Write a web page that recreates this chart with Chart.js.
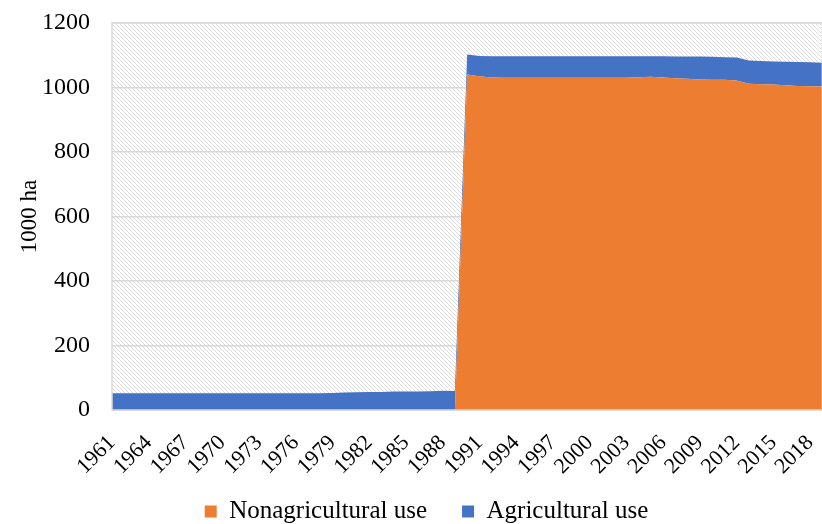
<!DOCTYPE html>
<html>
<head>
<meta charset="utf-8">
<script src="https://cdn.jsdelivr.net/npm/chart.js@4"></script>
<style>
  html, body { margin: 0; padding: 0; background: #fff; overflow: hidden; }
  #wrap { width: 853px; height: 524px; position: relative; }
</style>
</head>
<body>
<div id="wrap"><canvas id="c"></canvas></div>
<script>
// Land area, 1000 ha
const years = [];
for (let y = 1961; y <= 2019; y++) years.push(String(y));

const nonagricultural = [
  0, 0, 0, 0, 0, 0, 0, 0, 0, 0,          // 1961-1970
  0, 0, 0, 0, 0, 0, 0, 0, 0, 0,          // 1971-1980
  0, 0, 0, 0, 0, 0, 0, 0, 0,             // 1981-1989
  1040, 1035, 1031, 1030, 1030, 1030, 1030, 1030, 1030, 1030, // 1990-1999
  1030, 1030, 1030, 1030, 1032, 1033, 1031, 1029, 1027, 1025, // 2000-2009
  1024, 1024, 1022, 1012, 1010, 1009, 1007, 1005, 1004, 1003  // 2010-2019
];

const agricultural = [
  52, 52, 52, 52, 52, 52, 52, 52, 52, 52, // 1961-1970
  52, 52, 52, 52, 52, 52, 52, 52, 53, 54, // 1971-1980
  55, 56, 56, 57, 57, 57, 58, 60, 59,     // 1981-1989
  62, 63, 66, 67, 67, 67, 67, 67, 67, 67, // 1990-1999
  67, 67, 67, 67, 65, 64, 66, 67, 69, 71, // 2000-2009
  71, 70, 71, 72, 72, 72, 73, 74, 74, 74  // 2010-2019
];

const yTicks = [0, 200, 400, 600, 800, 1000, 1200];

// diagonal hatch for the plot background
function makeHatch() {
  const n = 4;
  const t = document.createElement('canvas');
  t.width = n; t.height = n;
  const g = t.getContext('2d');
  g.fillStyle = '#ffffff';
  g.fillRect(0, 0, n, n);
  g.fillStyle = '#dcdcdc';
  for (let i = 0; i < n; i++) g.fillRect(i, i, 1, 1);
  return t;
}

const plotBackground = {
  id: 'plotBackground',
  beforeDraw(chart) {
    const { ctx, chartArea: a } = chart;
    ctx.save();
    ctx.fillStyle = ctx.createPattern(makeHatch(), 'repeat');
    ctx.fillRect(a.left, a.top, a.right - a.left, a.bottom - a.top);
    ctx.restore();
  },
  afterDraw(chart) {
    const { ctx, chartArea: a } = chart;
    ctx.save();
    ctx.strokeStyle = '#d9d9d9';
    ctx.lineWidth = 1.5;
    ctx.strokeRect(a.left, a.top, a.right - a.left, a.bottom - a.top);
    ctx.restore();
  }
};

// wide horizontal gaps between legend items, but a compact legend row
const legendRow = {
  id: 'legendRow',
  beforeLayout(chart) {
    const lg = chart.legend;
    if (lg && !lg._compact) {
      const fit = lg.fit.bind(lg);
      lg.fit = function () { fit(); this.height = 45; };
      lg._compact = true;
    }
  },
  afterLayout(chart) {
    const lg = chart.legend;
    if (lg) {
      lg.top -= 15;
      lg.height = lg.bottom - lg.top;
    }
  }
};

const serif = "'Liberation Serif', 'Times New Roman', serif";

new Chart(document.getElementById('c'), {
  type: 'line',
  data: {
    labels: years,
    datasets: [
      {
        label: 'Nonagricultural use',
        data: nonagricultural,
        backgroundColor: '#ED7D31',
        borderColor: '#ED7D31',
        borderWidth: 0,
        pointRadius: 0,
        fill: 'origin',
        tension: 0
      },
      {
        label: 'Agricultural use',
        data: agricultural,
        backgroundColor: '#4472C4',
        borderColor: '#4472C4',
        borderWidth: 0,
        pointRadius: 0,
        fill: '-1',
        tension: 0
      }
    ]
  },
  options: {
    responsive: true,
    maintainAspectRatio: false,
    animation: false,
    layout: { padding: { left: 0, right: 0, top: 23, bottom: 0 } },
    plugins: {
      legend: {
        position: 'bottom',
        labels: {
          font: { family: serif, size: 25 },
          color: '#000',
          boxWidth: 12,
          boxHeight: 12,
          padding: 35
        }
      },
      tooltip: { enabled: false }
    },
    scales: {
      x: {
        offset: false,
        grid: { display: false },
        border: { display: true, color: '#d9d9d9' },
        afterFit(scale) { scale.height = 69; },
        ticks: {
          autoSkip: false,
          maxRotation: 45,
          minRotation: 45,
          padding: 12,
          color: '#000',
          font: { family: serif, size: 22 },
          callback(v, i) { return i % 3 === 0 ? years[i] : ''; }
        }
      },
      y: {
        stacked: true,
        min: 0,
        max: 1200,
        afterBuildTicks(scale) { scale.ticks = yTicks.map(v => ({ value: v })); },
        afterFit(scale) { scale.width = 112; },
        grid: {
          color: '#d9d9d9',
          lineWidth: 1.5,
          drawTicks: true,
          tickLength: 22,
          tickColor: 'rgba(0,0,0,0)'
        },
        border: { display: false },
        title: {
          display: true,
          text: '1000 ha',
          color: '#000',
          font: { family: serif, size: 23 },
          padding: { top: 16, bottom: 0 }
        },
        ticks: {
          color: '#000',
          padding: 0,
          font: { family: serif, size: 24 },
          callback(v) { return String(v); }
        }
      }
    }
  },
  plugins: [plotBackground, legendRow]
});
</script>
</body>
</html>
